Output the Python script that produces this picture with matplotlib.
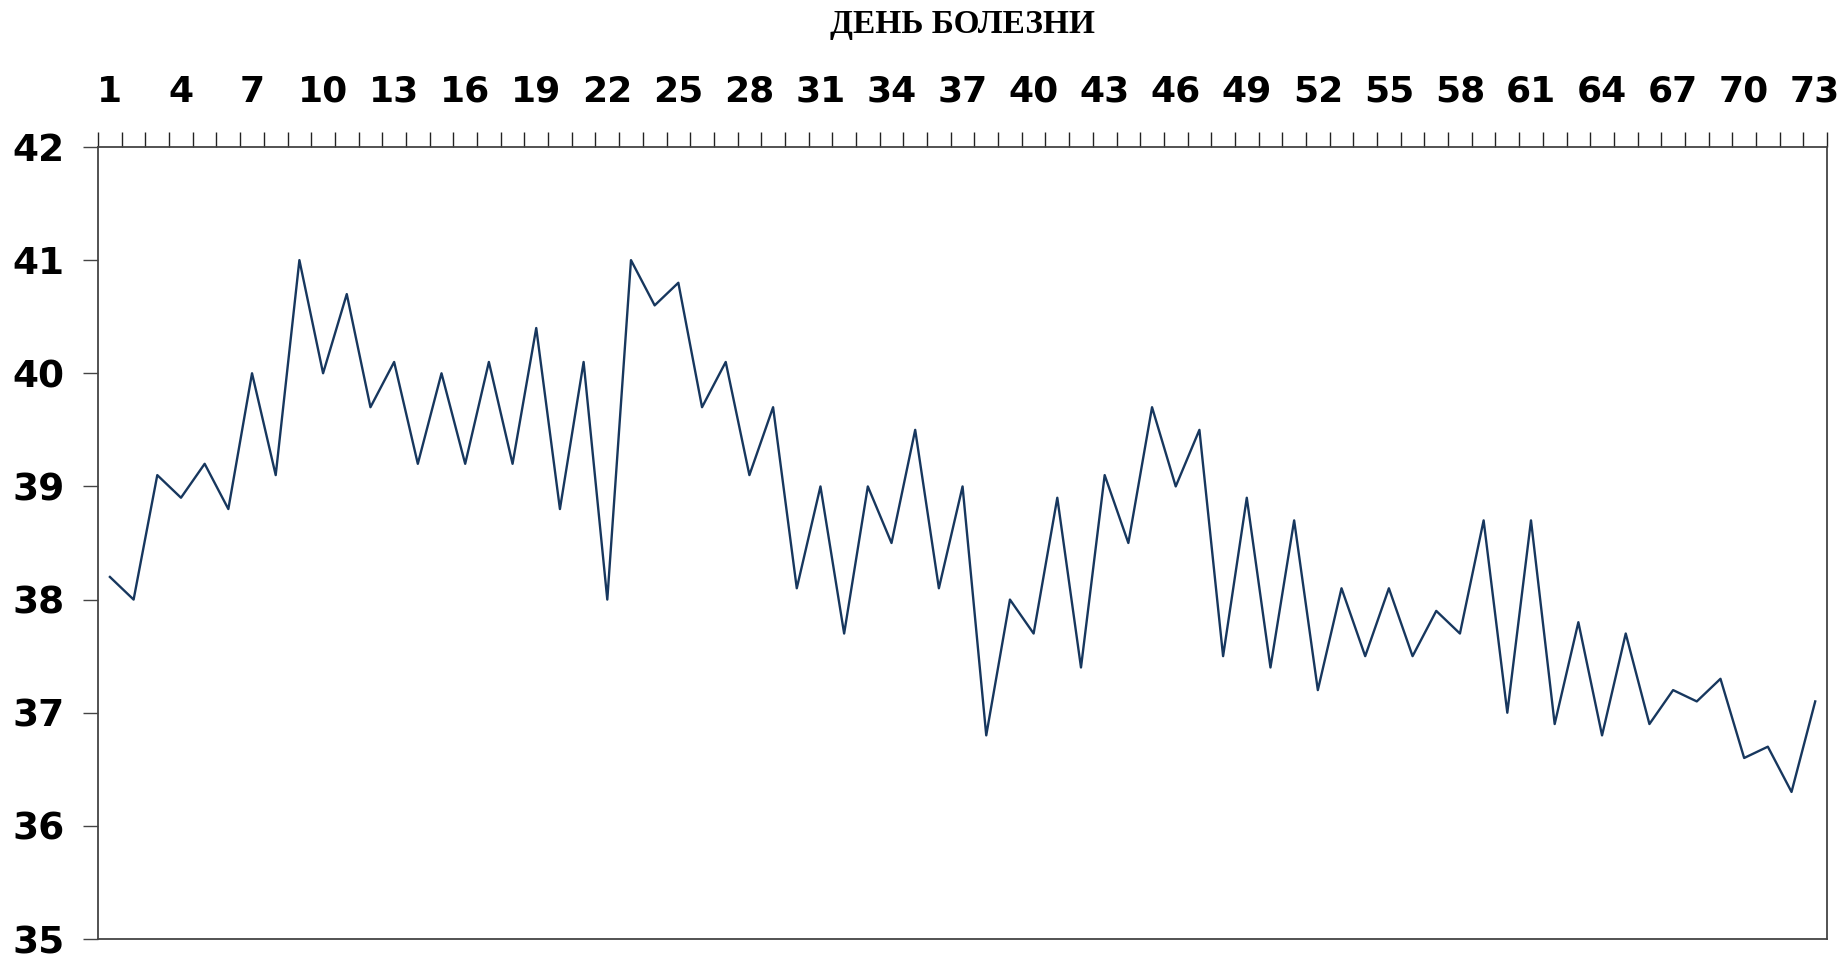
import numpy as np
import matplotlib
matplotlib.use('Agg')
import matplotlib.pyplot as plt
import matplotlib.transforms as mtransforms
from matplotlib.ticker import FixedLocator

days = list(range(1, 74))
temps = [38.2, 38.0, 39.1, 38.9, 39.2, 38.8, 40.0, 39.1, 41.0, 40.0,
         40.7, 39.7, 40.1, 39.2, 40.0, 39.2, 40.1, 39.2, 40.4, 38.8,
         40.1, 38.0, 41.0, 40.6, 40.8, 39.7, 40.1, 39.1, 39.7, 38.1,
         39.0, 37.7, 39.0, 38.5, 39.5, 38.1, 39.0, 36.8, 38.0, 37.7,
         38.9, 37.4, 39.1, 38.5, 39.7, 39.0, 39.5, 37.5, 38.9, 37.4,
         38.7, 37.2, 38.1, 37.5, 38.1, 37.5, 37.9, 37.7, 38.7, 37.0,
         38.7, 36.9, 37.8, 36.8, 37.7, 36.9, 37.2, 37.1, 37.3, 36.6,
         36.7, 36.3, 37.1]
x_labels = list(range(1, 74, 3))
y_ticks = list(range(35, 43))
title = 'ДЕНЬ БОЛЕЗНИ'

fig = plt.figure(figsize=(18.47, 9.65), dpi=100)
ax = fig.add_axes([0.0531, 0.0269, 0.9361, 0.8208])

ax.plot(days, temps, color='#17375E', linewidth=1.7)

ax.set_xlim(0.5, 73.5)
ax.set_ylim(35, 42)

# x axis on top, labels centred on days, tick marks between days
ax.xaxis.tick_top()
ax.xaxis.set_major_locator(FixedLocator(x_labels))
ax.xaxis.set_minor_locator(FixedLocator(np.arange(0.5, 74, 1.0)))
ax.set_xticklabels([str(d) for d in x_labels], fontsize=26, fontweight='bold',
                   family='DejaVu Sans')
ax.tick_params(axis='x', which='major', length=0, pad=27.5, top=True, bottom=False)
ax.tick_params(axis='x', which='minor', length=11, width=1.0, direction='out',
               top=True, bottom=False, color='#222222')

ax.set_yticks(y_ticks)
ax.set_yticklabels([str(t) for t in y_ticks], fontsize=27, fontweight='bold',
                   family='DejaVu Sans')
ax.tick_params(axis='y', length=11, width=1.0, direction='out', pad=13, color='#444444')
shift = mtransforms.ScaledTranslation(0, -4 / 100, fig.dpi_scale_trans)
for lbl in ax.get_yticklabels():
    lbl.set_verticalalignment('center')
    lbl.set_transform(lbl.get_transform() + shift)

for s in ax.spines.values():
    s.set_color('#444444')
    s.set_linewidth(1.3)

pos = ax.get_position()
fig.text((pos.x0 + pos.x1) / 2, 1 - 25 / 965, title, ha='center', va='center',
         fontsize=24, fontweight='bold', family='Liberation Serif')

fig.savefig('out.png', dpi=100, facecolor='white')
